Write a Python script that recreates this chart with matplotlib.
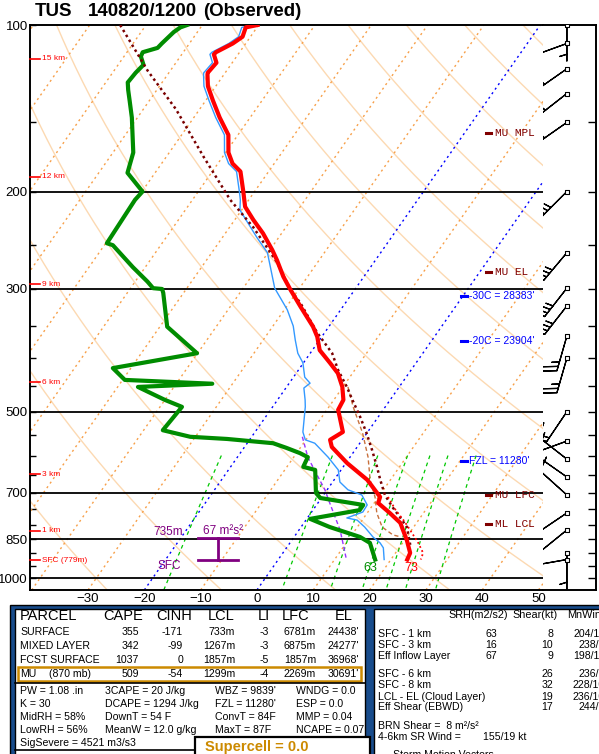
import numpy as np
import matplotlib
matplotlib.use('Agg')
import matplotlib.pyplot as plt
from matplotlib.patches import Rectangle
from matplotlib.ticker import FixedLocator, FixedFormatter, NullFormatter

plt.rcParams['font.family'] = ['Liberation Sans', 'DejaVu Sans']

# ---- observed sounding (hPa, deg C) ----
temp_p = [100, 101, 105, 108, 112, 113, 117, 122, 123, 129, 137, 147, 158, 170, 178, 184, 200,
          207, 213, 225, 238, 255, 266, 285, 301, 323, 351, 366, 387, 408, 426, 451, 476, 496,
          544, 562, 579, 619, 664, 713, 731, 762, 794, 853, 900, 925]
temp_c = [-70.2, -72.0, -71.4, -72.3, -74.2, -74.3, -72.8, -73.1, -72.9, -71.4, -68.7, -65.4, -61.7,
          -59.5, -57.4, -55.0, -52.0, -50.8, -49.8, -46.7, -43.3, -39.6, -37.5, -34.3, -31.4, -27.5,
          -22.8, -20.8, -18.7, -15.3, -12.6, -10.1, -8.3, -8.0, -4.4, -5.7, -4.5, 0.2, 5.9, 10.3,
          10.7, 14.0, 17.1, 20.4, 22.6, 22.9]

dwpt_p = [100, 101, 103, 108, 110, 112, 114, 118, 122, 127, 131, 137, 147, 170, 185, 200, 207,
          248, 250, 274, 291, 299, 300, 305, 351, 392, 417, 438, 445, 451, 476, 490, 540, 555,
          560, 570, 581, 594, 604, 629, 637, 701, 716, 737, 753, 781, 808, 842, 863, 925]
dwpt_c = [-82.7, -83.6, -84.2, -84.9, -85.1, -87.2, -87.0, -85.5, -85.9, -86.1, -85.1, -83.5, -81.0,
          -76.4, -74.9, -69.9, -70.2, -69.8, -68.5, -62.2, -57.8, -56.0, -54.3, -53.6, -48.7, -40.1,
          -53.2, -49.6, -33.6, -46.4, -40.0, -36.1, -36.6, -30.9, -24.1, -15.4, -12.5, -9.4, -7.5,
          -7.1, -4.6, -1.6, -0.2, 8.3, 8.3, 0.6, 5.1, 11.7, 14.2, 17.2]

wetb_p = [100, 101, 105, 108, 112, 113, 117, 122, 123, 129, 137, 147, 158, 170, 178, 184, 200,
          207, 216, 242, 258, 299, 327, 350, 371, 392, 408, 433, 444, 453, 476, 490, 544, 562,
          570, 604, 637, 670, 692, 707, 737, 759, 778, 785, 808, 842, 863, 881, 925]
wetb_c = [-70.9, -72.7, -72.1, -73.0, -74.9, -75.0, -73.5, -73.8, -73.6, -72.1, -69.4, -66.1, -62.4,
          -60.2, -58.1, -55.7, -52.7, -51.5, -50.3, -43.9, -40.1, -34.4, -29.5, -26.4, -24.3, -22.2,
          -20.1, -18.0, -16.3, -16.8, -15.1, -14.2, -11.5, -10.1, -8.0, -3.9, -0.5, 1.3, 3.7, 6.8,
          9.0, 9.1, 7.0, 9.1, 11.3, 14.0, 16.0, 17.2, 18.8]

# most unstable parcel trace
parcel_p = [100, 121, 142, 173, 207, 232, 269, 301, 318, 360, 392, 420, 451, 476, 511, 546, 586,
            629, 664, 707, 743, 775, 808, 870]
parcel_c = [-94.6, -84.0, -74.2, -63.4, -53.3, -45.8, -37.1, -31.4, -28.0, -21.3, -16.1, -13.0,
            -9.3, -6.7, -3.2, -0.1, 3.0, 6.0, 8.2, 10.9, 13.7, 16.3, 18.8, 21.6]

virt_p = [713, 753, 791, 835, 860, 900, 925]
virt_c = [11.7, 14.7, 17.8, 20.9, 22.6, 24.9, 25.3]

mlv_p = [451, 490, 546, 604, 664, 713, 762, 808, 835, 842]
mlv_c = [-9.1, -5.7, -0.8, 3.2, 6.4, 9.4, 11.7, 14.4, 17.3, 19.0]

down_p = [555, 604, 656, 692, 731, 775, 818, 863, 925]
down_c = [-11.0, -7.5, -3.2, -0.4, 2.1, 4.8, 7.3, 9.4, 12.1]

# winds (direction deg, speed kt)
wind_p = [100, 108, 120, 133, 150, 200, 258, 299, 322, 365, 400, 500, 565, 609, 656, 707, 762,
          818, 900, 925]
wind_dir = [180, 250, 235, 232, 235, 225, 220, 218, 218, 196, 196, 214, 250, 308, 305, 312, 236,
            231, 180, 260]
wind_spd = [5, 15, 30, 30, 30, 35, 35, 35, 35, 25, 25, 20, 10, 15, 10, 10, 10, 10, 5, 5]

# height markers
km_labels = ['15 km', '12 km', '9 km', '6 km', '3 km', '1 km', 'SFC (779m)']
km_p = [115, 188, 294, 442, 648, 821, 927]

# level annotations
mu_labels = ['MU MPL', 'MU EL', 'MU LFC', 'ML LCL']
mu_p = [157, 280, 707, 799]
iso_labels = ["-30C = 28383'", "-20C = 23904'", "FZL = 11280'"]
iso_p = [309, 373, 614]

eff_top, eff_bot = 847, 927
sfc_t_f, sfc_td_f = 73, 63

# grid
theta_lines = list(range(-30, 211, 20))
isotherms = list(range(-110, 51, 10))
mix_ratios = [1, 5, 9, 13, 17, 21, 29]
isobars = [200, 300, 500, 700, 850, 1000]
p_labels = [100, 200, 300, 500, 700, 850, 1000]
t_ticks = [-30, -20, -10, 0, 10, 20, 30, 40, 50]

SKEW = 29.9
P_BOT = 1050.0


def skew_x(t, p):
    return np.asarray(t, float) + SKEW * np.log(P_BOT / np.asarray(p, float))


W, H = 599.0, 754.0


def box(l, t, r, b):
    return [l / W, 1 - b / H, (r - l) / W, (b - t) / H]


fig = plt.figure(figsize=(W / 100, H / 100), dpi=100)

ax = fig.add_axes(box(30, 25, 543, 590))
ax.set_yscale('log')
ax.set_ylim(P_BOT, 100)
ax.set_xlim(-40.3, 50.8)
ax.spines['right'].set_visible(False)
for s in ['left', 'top', 'bottom']:
    ax.spines[s].set_linewidth(1.4)
ax.yaxis.set_major_locator(FixedLocator(p_labels))
ax.yaxis.set_major_formatter(FixedFormatter([str(v) for v in p_labels]))
minor = [v for v in range(150, 1001, 50) if v not in p_labels]
ax.yaxis.set_minor_locator(FixedLocator(minor))
ax.yaxis.set_minor_formatter(NullFormatter())
ax.tick_params(axis='y', which='both', direction='in', length=4, width=1, labelsize=9.5, pad=1.5)
ax.set_xticks(t_ticks)
ax.tick_params(axis='x', length=0, labelsize=9.5, pad=2)

pp = np.geomspace(100, P_BOT, 200)
for th in theta_lines:
    tt = (th + 273.15) * (pp / 1000.0) ** 0.286 - 273.15
    ax.plot(skew_x(tt, pp), pp, color='#fcd9b2', lw=1.0, zorder=1)
for t in isotherms:
    c = '#0000ff' if t in (0, -20) else '#f7a04a'
    ax.plot(skew_x([t, t], [P_BOT, 100]), [P_BOT, 100], color=c, lw=1.0,
            ls=(0, (1.5, 2.5)), zorder=2)
pm = np.linspace(600, P_BOT, 60)
for w in mix_ratios:
    e = w * pm / (622.0 + w)
    lg = np.log(e / 6.112)
    td = 243.5 * lg / (17.67 - lg)
    ax.plot(skew_x(td, pm), pm, color='#00c800', lw=0.9, ls=(0, (3, 3)), zorder=2)
for p in isobars:
    ax.axhline(p, color='black', lw=1.3, zorder=3)

ax.plot(skew_x(mlv_c, mlv_p), mlv_p, color='#c8703c', lw=1.0, ls=(0, (3, 2)), zorder=4)
ax.plot(skew_x(down_c, down_p), down_p, color='#9933ff', lw=1.0, ls=(0, (3, 2)), zorder=4)
ax.plot(skew_x(wetb_c, wetb_p), wetb_p, color='#3399ff', lw=1.0, zorder=5)
ax.plot(skew_x(dwpt_c, dwpt_p), dwpt_p, color='#008c00', lw=3.0, zorder=6)
ax.plot(skew_x(parcel_c, parcel_p), parcel_p, color='#7a0000', lw=1.8, ls=(0, (1, 1.3)), zorder=7)
ax.plot(skew_x(virt_c, virt_p), virt_p, color='#ff0000', lw=1.3, ls=(0, (1, 1.5)), zorder=7)
ax.plot(skew_x(temp_c, temp_p), temp_p, color='#ff0000', lw=3.0, zorder=8)

ax.annotate(str(sfc_td_f), (skew_x(dwpt_c[-1], dwpt_p[-1]), dwpt_p[-1]), xytext=(-5, -8),
            textcoords='offset pixels', ha='center', va='center', color='#008c00', fontsize=9)
ax.annotate(str(sfc_t_f), (skew_x(temp_c[-1], temp_p[-1]), temp_p[-1]), xytext=(4, -8),
            textcoords='offset pixels', ha='center', va='center', color='#ff0000', fontsize=9)

# height markers on the left edge
yx = ax.get_yaxis_transform()
for lab, p in zip(km_labels, km_p):
    ax.plot([0, 0.02], [p, p], color='red', lw=1.2, transform=yx, clip_on=False, zorder=9)
    ax.text(0.023, p, lab, color='red', fontsize=6, va='center', ha='left', transform=yx)

# effective inflow layer
ex, ew = -6.9, 3.6
purple = '#800080'
ax.plot([ex, ex], [eff_top, eff_bot], color=purple, lw=2, zorder=9)
ax.plot([ex - ew, ex + ew], [eff_top, eff_top], color=purple, lw=2, zorder=9)
ax.plot([ex - ew, ex + ew], [eff_bot, eff_bot], color=purple, lw=2, zorder=9)
ax.annotate('735m', (ex - ew, eff_top), xytext=(-15, 6), textcoords='offset pixels',
            ha='right', va='center', color=purple, fontsize=8.5)
ax.annotate('67 m\u00b2s\u00b2', (ex - ew, eff_top), xytext=(5, 7), textcoords='offset pixels',
            ha='left', va='center', color=purple, fontsize=8.5)
ax.annotate('SFC', (ex - ew, eff_bot), xytext=(-40, -6), textcoords='offset pixels',
            ha='left', va='center', color=purple, fontsize=8.5)

for lab, p in zip(mu_labels, mu_p):
    ax.plot([0.889, 0.899], [p, p], color='#800000', lw=2.2, transform=yx, zorder=9)
    ax.text(0.906, p, lab, color='#800000', fontsize=8, family='Liberation Mono',
            va='center', ha='left', transform=yx)
for lab, p in zip(iso_labels, iso_p):
    ax.plot([0.840, 0.851], [p, p], color='#0000ff', lw=2.2, transform=yx, zorder=9)
    ax.text(0.856, p, lab, color='#0000ff', fontsize=7.5, va='center', ha='left', transform=yx)

# wind barb column
axw = fig.add_axes(box(543, 25, 596, 590))
axw.set_yscale('log')
axw.set_ylim(P_BOT, 100)
axw.set_xlim(0, 1)
axw.spines['left'].set_visible(False)
for s in ['right', 'top', 'bottom']:
    axw.spines[s].set_linewidth(1.4)
axw.set_xticks([])
axw.yaxis.tick_right()
axw.yaxis.set_major_locator(FixedLocator(list(range(150, 1001, 50))))
axw.yaxis.set_minor_locator(FixedLocator([]))
axw.yaxis.set_major_formatter(NullFormatter())
axw.yaxis.set_minor_formatter(NullFormatter())
axw.tick_params(axis='y', which='both', direction='in', length=6, width=1)
d = np.radians(wind_dir)
u = -np.array(wind_spd) * np.sin(d)
v = -np.array(wind_spd) * np.cos(d)
bx = np.full(len(wind_p), 0.45)
axw.barbs(bx, wind_p, u, v, length=7.2, lw=0.9, color='black', zorder=4)
axw.scatter(bx, wind_p, marker='s', s=5, facecolor='white', edgecolor='black', lw=0.8, zorder=5)

# ---- overlay for title and table ----
ov = fig.add_axes([0, 0, 1, 1])
ov.set_xlim(0, W)
ov.set_ylim(H, 0)
ov.axis('off')
ov.patch.set_alpha(0)

ov.text(35, 12, 'TUS', fontsize=13.5, weight='bold', va='center')
ov.text(88, 12, '140820/1200', fontsize=13.5, weight='bold', va='center')
ov.text(203, 12, '(Observed)', fontsize=13.5, weight='bold', va='center')

navy = '#184c8c'
gold = '#cc8a00'
ov.add_patch(Rectangle((10, 605), 600, 160, facecolor=navy, edgecolor='black', lw=1))
ov.add_patch(Rectangle((15, 609), 350, 160, facecolor='white', edgecolor='black', lw=1))
ov.add_patch(Rectangle((374, 609), 240, 160, facecolor='white', edgecolor='black', lw=1))

hdr_names = ['PARCEL', 'CAPE', 'CINH', 'LCL', 'LI', 'LFC', 'EL']
hdr_x = [20, 103, 156, 208, 258, 282, 335]
for s, x in zip(hdr_names, hdr_x):
    ov.text(x, 616, s, fontsize=10.5, va='center', ha='left')

parcel_names = ['SURFACE', 'MIXED LAYER', 'FCST SURFACE', 'MU']
cape = ['355', '342', '1037', '509']
cinh = ['-171', '-99', '0', '-54']
lcl = ['733m', '1267m', '1857m', '1299m']
li = ['-3', '-3', '-5', '-4']
lfc = ['6781m', '6875m', '1857m', '2269m']
el = ["24438'", "24277'", "36968'", "30691'"]
row_y = [632, 646, 660, 674]
for i, y in enumerate(row_y):
    ov.text(20, y, parcel_names[i], fontsize=7.6, va='center')
    for col, x in zip([cape, cinh, lcl, li, lfc, el], [139, 183, 235, 269, 316, 359]):
        ov.text(x, y, col[i], fontsize=7.6, va='center', ha='right')
ov.text(49, row_y[3], '(870 mb)', fontsize=7.6, va='center')
ov.add_patch(Rectangle((18, 667), 343, 14, facecolor='none', edgecolor=gold, lw=1.8))
ov.plot([15, 365], [683, 683], color='black', lw=1.2)

idx_col1 = ['PW = 1.08 .in', 'K = 30', 'MidRH = 58%', 'LowRH = 56%', 'SigSevere = 4521 m3/s3']
idx_col2 = ['3CAPE = 20 J/kg', 'DCAPE = 1294 J/kg', 'DownT = 54 F', 'MeanW = 12.0 g/kg']
idx_col3 = ["WBZ = 9839'", "FZL = 11280'", 'ConvT = 84F', 'MaxT = 87F']
idx_col4 = ['WNDG = 0.0', 'ESP = 0.0', 'MMP = 0.04', 'NCAPE = 0.07']
idx_y = [691, 704, 717, 730, 743]
for col, x in zip([idx_col1, idx_col2, idx_col3, idx_col4], [20, 105, 215, 296]):
    for s, y in zip(col, idx_y):
        ov.text(x, y, s, fontsize=7.6, va='center')
ov.plot([15, 195], [750, 750], color='black', lw=1.2)
ov.add_patch(Rectangle((195, 737), 175, 30, facecolor='white', edgecolor='black', lw=1.6))
ov.text(205, 747, 'Supercell = 0.0', fontsize=10.5, weight='bold', color=gold, va='center')

ov.text(448, 615, 'SRH(m2/s2)', fontsize=7.8, va='center')
ov.text(512, 615, 'Shear(kt)', fontsize=7.8, va='center')
ov.text(567, 615, 'MnWind', fontsize=7.8, va='center')
kin_labels = ['SFC - 1 km', 'SFC - 3 km', 'Eff Inflow Layer', 'SFC - 6 km', 'SFC - 8 km',
              'LCL - EL (Cloud Layer)', 'Eff Shear (EBWD)']
srh = ['63', '16', '67', '', '', '', '']
shear = ['8', '10', '9', '26', '32', '19', '17']
mnwind = ['204/10', '238/7', '198/10', '236/9', '228/10', '236/10', '244/7']
kin_y = [634, 645, 656, 674, 685, 697, 707]
for i, y in enumerate(kin_y):
    ov.text(378, y, kin_labels[i], fontsize=7.6, va='center')
    ov.text(497, y, srh[i], fontsize=7.6, va='center', ha='right')
    ov.text(553, y, shear[i], fontsize=7.6, va='center', ha='right')
    ov.text(605, y, mnwind[i], fontsize=7.6, va='center', ha='right')
ov.text(378, 726, 'BRN Shear =  8 m\u00b2/s\u00b2', fontsize=7.6, va='center')
ov.text(378, 737, '4-6km SR Wind =', fontsize=7.6, va='center')
ov.text(483, 737, '155/19 kt', fontsize=7.6, va='center')
ov.text(393, 755, 'Storm Motion Vectors', fontsize=7.6, va='center')

fig.savefig('out.png', dpi=100)
